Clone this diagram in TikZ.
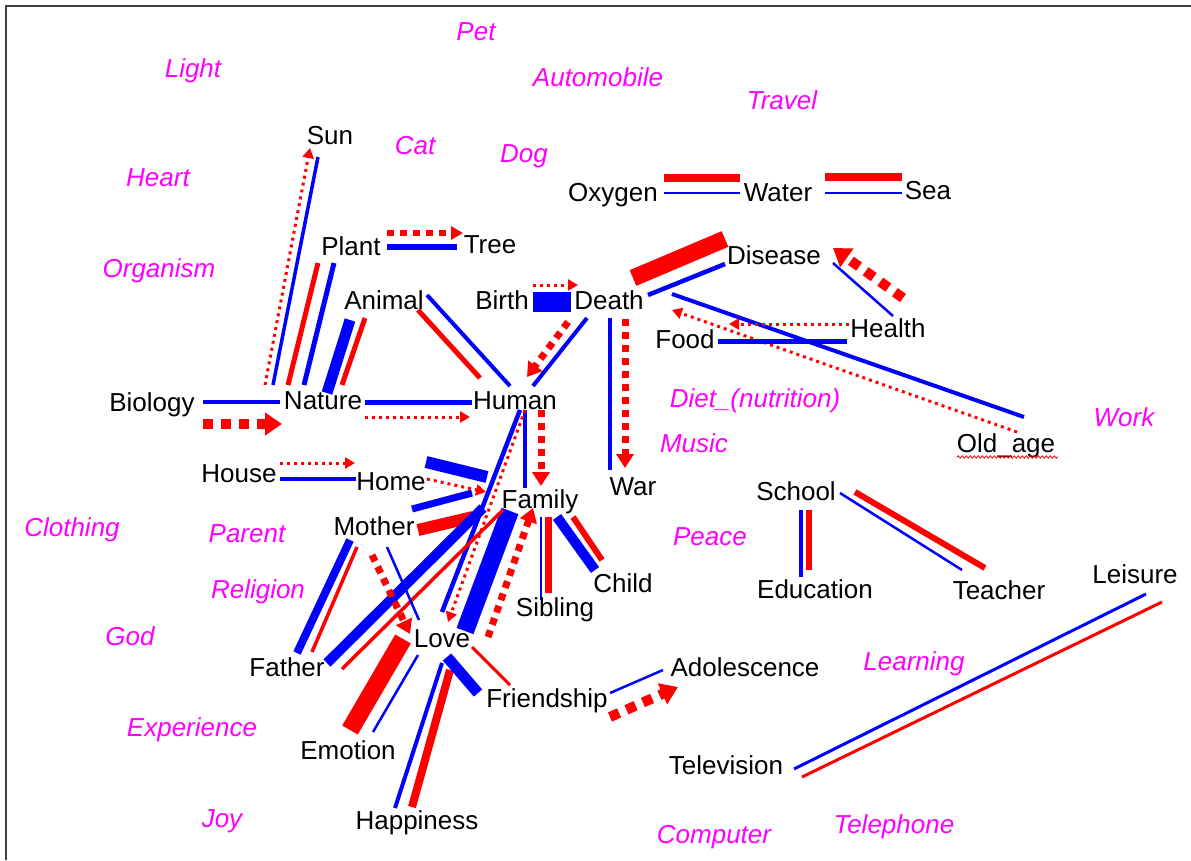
\documentclass[tikz,border=0pt]{standalone}
\usepackage{fontspec}
\setmainfont{Liberation Sans}
\usetikzlibrary{arrows.meta,decorations.pathmorphing}
\definecolor{mag}{RGB}{255,0,255}
\definecolor{rd}{RGB}{255,0,0}
\definecolor{bl}{RGB}{0,0,255}
\begin{document}
\begin{tikzpicture}[x=1pt,y=-1pt,
  lbl/.style={font=\fontsize{26}{30}\selectfont, anchor=base, inner sep=0pt},
  cat/.style={lbl, text=mag, font=\fontsize{26}{30}\selectfont\itshape},
  bb/.style={draw=bl, line width=#1pt},
  rb/.style={draw=rd, line width=#1pt},
  dots/.style={draw=rd, line width=3pt, dash pattern=on 3pt off 4pt, -{Triangle[length=10pt,width=11pt,fill=rd]}},
  dsh/.style={draw=rd, line width=7pt, dash pattern=on 7pt off 6pt, -{Triangle[length=14pt,width=17pt,fill=rd]}},
  bigdsh/.style={draw=rd, line width=10pt, dash pattern=on 10pt off 8pt, -{Triangle[length=17pt,width=22pt,fill=rd]}},
  frame/.style={draw=black!75, line width=2pt}]
\useasboundingbox (0,0) rectangle (1191,860);
\draw[frame] (6,860) -- (6,6) -- (1191,6);

% ---- connectors ----
% Sun
\draw[dots] (265,385) -- (310,148);
\draw[bb=3.5] (273,385) -- (318,157);
% Plant - Nature
\draw[rb=5] (288,385) -- (318,263);
\draw[bb=5] (304,385) -- (334,263);
% Animal - Nature
\draw[bb=11] (327,393) -- (350,320);
\draw[rb=5] (342,385) -- (365,318);
% Plant - Tree
\draw[draw=rd, line width=6pt, dash pattern=on 7pt off 6pt, -{Triangle[length=12pt,width=13pt,fill=rd]}] (387,233) -- (463,233);
\draw[bb=6] (387,247) -- (457,247);
% Animal - Human
\draw[rb=5] (418,310) -- (480,378);
\draw[bb=4] (427,295) -- (510,386);
% Birth - Death
\draw[dots] (533,285) -- (578,285);
\fill[bl] (533,292) rectangle (571,312);
% Death - Human
\draw[dsh] (568,322) -- (527,377);
\draw[bb=4] (587,318) -- (533,386);
% Biology - Nature
\draw[bb=4] (203,402) -- (280,402);
\draw[bigdsh] (203,424) -- (282,424);
% Nature - Human
\draw[bb=5] (365,402) -- (472,402);
\draw[dots] (365,417) -- (470,417);
% Oxygen - Water - Sea
\draw[rb=8] (664,178) -- (740,178);
\draw[bb=2.5] (664,193) -- (740,193);
\draw[rb=8] (825,177) -- (902,177);
\draw[bb=2.5] (825,193) -- (902,193);
% Death - Disease
\draw[rb=17] (633,278) -- (725,239);
\draw[bb=4.5] (648,295) -- (725,264);
% Health - Disease
\draw[bigdsh] (903,298) -- (833,248);
\draw[bb=2.5] (893,316) -- (833,263);
% Old_age - Death
\draw[bb=4] (672,294) -- (1024,417);
\draw[dots] (1017,432) -- (672,310);
% Health - Food
\draw[dots] (849,324) -- (729,324);
\draw[bb=5] (718,341) -- (847,341);
% Death - War
\draw[bb=4] (610,318) -- (610,470);
\draw[dsh] (625,319) -- (625,468);
% Human - Family
\draw[bb=4] (525,410) -- (525,488);
\draw[dsh] (541,410) -- (541,486);
% House - Home
\draw[dots] (280,463) -- (355,463);
\draw[bb=3.5] (280,479) -- (356,479);
% Home - Family
\draw[bb=12] (426,462) -- (487,477);
\draw[dots] (427,479) -- (486,492);
% Mother - Family
\draw[bb=7] (412,509) -- (472,493);
\draw[rb=12] (418,530) -- (473,517);
% Human - Love
\draw[bb=4.5] (520,410) -- (442,612);
\draw[dots] (525,410) -- (448,622);
% Family - Love
\draw[bb=18] (510,511) -- (465,631);
\draw[dsh] (488,637) -- (533,508);
% Family - Father
\draw[bb=10] (327,663) -- (483,508);
\draw[rb=3.5] (503,510) -- (342,669);
% Mother - Love
\draw[dsh] (372,555) -- (410,634);
\draw[bb=2.5] (387,547) -- (419,620);
% Mother - Father
\draw[bb=8] (350,540) -- (297,653);
\draw[rb=3.5] (357,547) -- (312,652);
% Emotion - Love
\draw[rb=18] (350,730) -- (403,639);
\draw[bb=2.5] (373,732) -- (418,655);
% Happiness - Love
\draw[bb=4] (395,808) -- (442,663);
\draw[rb=8] (412,807) -- (450,670);
% Love - Friendship
\draw[bb=11] (447,657) -- (478,693);
\draw[rb=3] (472,647) -- (510,685);
% Family - Sibling
\draw[bb=2.5] (541,517) -- (541,600);
\draw[rb=7] (548,517) -- (548,593);
% Family - Child
\draw[bb=10] (557,517) -- (595,570);
\draw[rb=6] (573,517) -- (602,560);
% Friendship - Adolescence
\draw[bb=2.5] (610,693) -- (663,670);
\draw[bigdsh] (610,717) -- (678,687);
% School - Education / Teacher
\draw[bb=4] (801,510) -- (801,577);
\draw[rb=6] (809,510) -- (809,570);
\draw[bb=2.5] (840,493) -- (962,570);
\draw[rb=6] (855,492) -- (985,568);
% Television - Leisure
\draw[bb=3] (794,769) -- (1146,594);
\draw[rb=3] (802,777) -- (1162,602);

% ---- concept labels ----
\node[lbl] (Sun) at (330,144) {Sun};
\node[lbl] (Plant) at (351,255) {Plant};
\node[lbl] (Tree) at (490,253) {Tree};
\node[lbl] (Oxygen) at (613,201) {Oxygen};
\node[lbl] (Water) at (778,201) {Water};
\node[lbl] (Sea) at (928,199) {Sea};
\node[lbl] (Disease) at (774,264) {Disease};
\node[lbl] (Animal) at (384,309) {Animal};
\node[lbl] (Birth) at (502,309) {Birth};
\node[lbl] (Death) at (609,309) {Death};
\node[lbl] (Health) at (888,337) {Health};
\node[lbl] (Food) at (685,348) {Food};
\node[lbl] (Biology) at (152,411) {Biology};
\node[lbl] (Nature) at (323,409) {Nature};
\node[lbl] (Human) at (515,409) {Human};
\node[lbl] (Oldage) at (1006,452) {Old\_age};
\draw[rd, line width=0.8pt, decorate, decoration={snake, amplitude=1.2pt, segment length=4pt}] (957,457) -- (1058,457);
\node[lbl] (House) at (239,482) {House};
\node[lbl] (Home) at (391,490) {Home};
\node[lbl] (Family) at (540,508) {Family};
\node[lbl] (War) at (633,495) {War};
\node[lbl] (School) at (796,500) {School};
\node[lbl] (Mother) at (374,535) {Mother};
\node[lbl] (Child) at (623,592) {Child};
\node[lbl] (Sibling) at (555,616) {Sibling};
\node[lbl] (Education) at (815,598) {Education};
\node[lbl] (Teacher) at (999,599) {Teacher};
\node[lbl] (Leisure) at (1135,583) {Leisure};
\node[lbl] (Love) at (442,647) {Love};
\node[lbl] (Father) at (287,676) {Father};
\node[lbl] (Adolescence) at (745,676) {Adolescence};
\node[lbl] (Friendship) at (547,707) {Friendship};
\node[lbl] (Emotion) at (348,759) {Emotion};
\node[lbl] (Television) at (726,774) {Television};
\node[lbl] (Happiness) at (417,829) {Happiness};

% ---- unlinked (magenta) labels ----
\node[cat] (Pet) at (476,40) {Pet};
\node[cat] (Light) at (193,77) {Light};
\node[cat] (Automobile) at (598,86) {Automobile};
\node[cat] (Travel) at (782,109) {Travel};
\node[cat] (Cat) at (415,154) {Cat};
\node[cat] (Dog) at (524,162) {Dog};
\node[cat] (Heart) at (158,186) {Heart};
\node[cat] (Organism) at (159,277) {Organism};
\node[cat] (Diet) at (755,407) {Diet\_(nutrition)};
\node[cat] (Work) at (1124,426) {Work};
\node[cat] (Music) at (694,452) {Music};
\node[cat] (Clothing) at (72,536) {Clothing};
\node[cat] (Parent) at (247,542) {Parent};
\node[cat] (Peace) at (710,545) {Peace};
\node[cat] (Religion) at (258,598) {Religion};
\node[cat] (God) at (130,645) {God};
\node[cat] (Learning) at (914,670) {Learning};
\node[cat] (Experience) at (192,736) {Experience};
\node[cat] (Joy) at (222,827) {Joy};
\node[cat] (Computer) at (714,843) {Computer};
\node[cat] (Telephone) at (894,833) {Telephone};
\end{tikzpicture}
\end{document}
